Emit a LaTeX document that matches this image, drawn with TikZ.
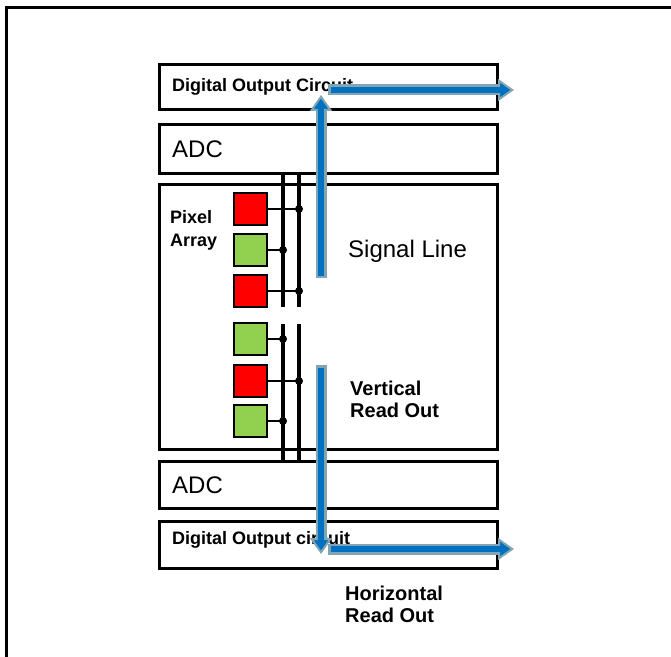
\documentclass[tikz,border=0pt]{standalone}
\usepackage{fontspec}
\setmainfont{Liberation Sans}
\usetikzlibrary{arrows.meta}
\definecolor{pxred}{RGB}{255,0,0}
\definecolor{pxgreen}{RGB}{146,208,80}
\definecolor{arrblue}{RGB}{0,112,192}
\definecolor{arrgray}{RGB}{130,165,180}
\begin{document}
\begin{tikzpicture}[x=1bp,y=-1bp,
  blockbox/.style={draw=black, line width=2.8bp, rectangle, inner sep=0pt, anchor=north west, minimum width=338bp},
  pixbox/.style={draw=black, line width=2.5bp, rectangle, minimum width=33bp, minimum height=32bp, inner sep=0pt},
  lbl/.style={anchor=base west, inner sep=0pt, font=\fontsize{18bp}{22bp}\selectfont\bfseries},
  midlbl/.style={anchor=base west, inner sep=0pt, font=\fontsize{20bp}{22bp}\selectfont\bfseries},
  biglbl/.style={anchor=base west, inner sep=0pt, font=\fontsize{24bp}{28bp}\selectfont},
  bus/.style={line width=4.5bp, black},
  wire/.style={line width=2.8bp, black},
  jdot/.style={fill=black},
  frameline/.style={line width=3bp, black},
  flowbg/.style={line width=11bp, arrgray, -{Triangle[length=16bp,width=22bp,fill=arrblue,line width=2bp]}},
  flowfg/.style={line width=6bp, arrblue, shorten >=12bp, shorten <=2.5bp}
]
\useasboundingbox (0,0) rectangle (671,657);

% outer frame (top and left edges)
\coordinate (fbl) at (6,657);
\coordinate (ftl) at (6,8);
\coordinate (ftr) at (671,8);
\draw[frameline] (fbl) -- (ftl) -- (ftr);

% blocks
\node[blockbox, minimum height=45bp] (doc1) at (158,63) {};
\node[blockbox, minimum height=49bp] (adc1) at (158,123) {};
\node[blockbox, minimum height=265bp, line width=2.5bp] (pix) at (158,183) {};
\node[blockbox, minimum height=47bp] (adc2) at (158,460) {};
\node[blockbox, minimum height=47bp] (doc2) at (158,520) {};

% labels
\node[lbl] (tdoc1) at (172,92) {Digital Output Circuit};
\node[biglbl] (tadc1) at (172,157) {ADC};
\node[lbl] (tpix1) at (170,223) {Pixel};
\node[lbl] (tpix2) at (170,246) {Array};
\node[biglbl] (tsig) at (348,257) {Signal Line};
\node[midlbl] (tver1) at (350,395) {Vertical};
\node[midlbl] (tver2) at (350,417) {Read Out};
\node[biglbl] (tadc2) at (172,493) {ADC};
\node[lbl] (tdoc2) at (172,544) {Digital Output circuit};
\node[midlbl] (thor1) at (345,600) {Horizontal};
\node[midlbl] (thor2) at (345,622) {Read Out};

% bus lines
\coordinate (b1a) at (283,172);
\coordinate (b1b) at (283,307);
\coordinate (b1c) at (283,324);
\coordinate (b1d) at (283,460);
\coordinate (b2a) at (299,172);
\coordinate (b2b) at (299,307);
\coordinate (b2c) at (299,324);
\coordinate (b2d) at (299,460);
\draw[bus] (b1a) -- (b1b);
\draw[bus] (b1c) -- (b1d);
\draw[bus, line width=4bp] (b2a) -- (b2b);
\draw[bus, line width=4bp] (b2c) -- (b2d);

% pixels
\node[pixbox, fill=pxred] (r1) at (250.5,209) {};
\node[pixbox, fill=pxgreen] (g1) at (250.5,250) {};
\node[pixbox, fill=pxred] (r2) at (250.5,291) {};
\node[pixbox, fill=pxgreen] (g2) at (250.5,339) {};
\node[pixbox, fill=pxred] (r3) at (250.5,381) {};
\node[pixbox, fill=pxgreen] (g3) at (250.5,421) {};

% pixel wires and junctions
\foreach \p/\b in {r1/b2a, g1/b1a, r2/b2a, g2/b1a, r3/b2a, g3/b1a}{
  \draw[wire] (\p.east) -- (\p.east -| \b);
  \fill[jdot] (\p.east -| \b) circle (4bp);
}

% signal flow arrows
\coordinate (hu1) at (328,90);
\coordinate (hu2) at (514,90);
\coordinate (vu1) at (321,278);
\coordinate (vu2) at (321,95);
\coordinate (hd1) at (328,549);
\coordinate (hd2) at (514,549);
\coordinate (vd1) at (321,365);
\coordinate (vd2) at (321,554);

\draw[flowbg] (hu1) -- (hu2);
\draw[flowfg] (hu1) -- (hu2);
\draw[flowbg] (vu1) -- (vu2);
\draw[flowfg] (vu1) -- (vu2);

\draw[flowbg] (hd1) -- (hd2);
\draw[flowfg] (hd1) -- (hd2);
\draw[flowbg] (vd1) -- (vd2);
\draw[flowfg] (vd1) -- (vd2);
\end{tikzpicture}
\end{document}
